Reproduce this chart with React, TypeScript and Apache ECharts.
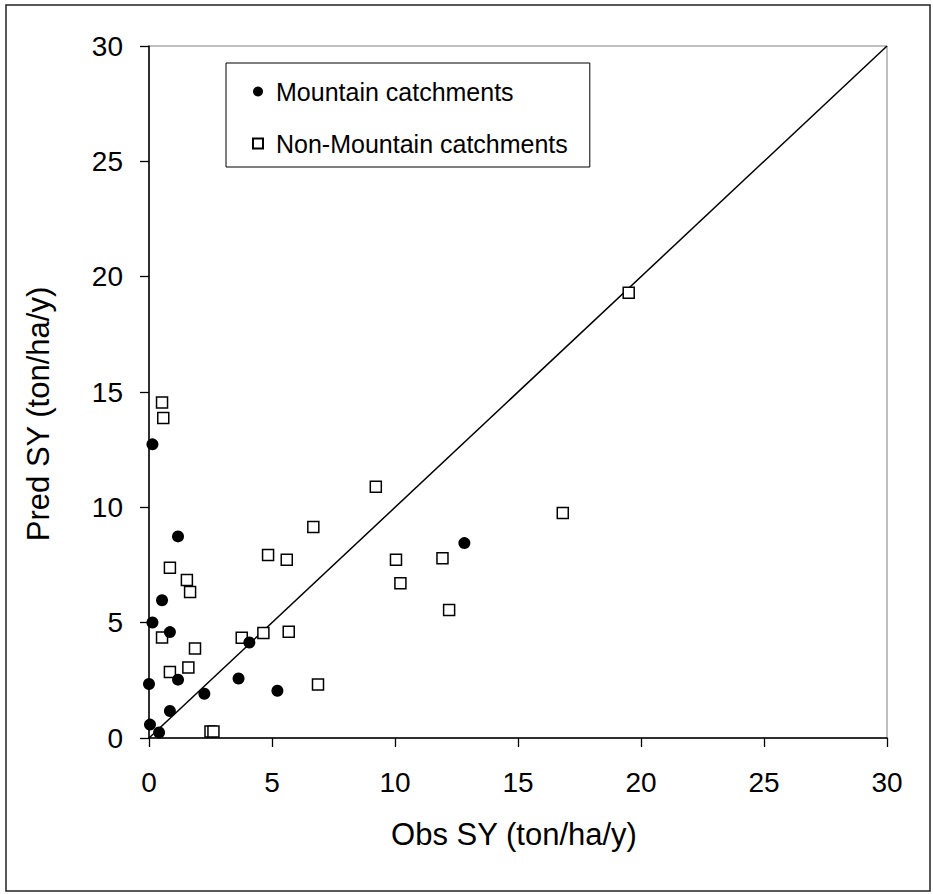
import React, { useEffect, useRef } from "react";
import * as echarts from "echarts";

// Observed vs predicted sediment yield (ton/ha/y)
const mountainObs = [0.14, 1.18, 0.53, 0.14, 0.85, 0.0, 1.18, 2.25, 3.64, 4.08, 0.85, 0.04, 0.41, 5.22, 12.82];
const mountainPred = [12.73, 8.74, 5.97, 5.01, 4.59, 2.34, 2.53, 1.92, 2.58, 4.14, 1.17, 0.58, 0.24, 2.05, 8.45];

const nonMountainObs = [
  0.53, 0.58, 0.85, 1.54, 1.67, 0.53, 1.87, 0.85, 1.6, 3.77, 4.65, 4.84, 5.6, 5.68, 2.5, 2.62, 6.68, 10.04,
  10.22, 6.87, 9.22, 16.82, 11.93, 12.2, 19.5,
];
const nonMountainPred = [
  14.55, 13.87, 7.38, 6.85, 6.33, 4.36, 3.88, 2.86, 3.06, 4.35, 4.55, 7.93, 7.73, 4.61, 0.28, 0.28, 9.15, 7.73,
  6.71, 2.32, 10.89, 9.75, 7.79, 5.55, 19.3,
];

// 1:1 reference line
const oneToOne = [0, 30];

const seriesNames = ["Mountain catchments", "Non-Mountain catchments"];
const axisTicks = [0, 5, 10, 15, 20, 25, 30];

const FONT = "'Liberation Sans', Arial, Helvetica, sans-serif";

function pairs(xs: number[], ys: number[]) {
  return xs.map((x, i) => [x, ys[i]]);
}

export default function App() {
  const ref = useRef<HTMLDivElement>(null);

  useEffect(() => {
    if (!ref.current) return;
    const chart = echarts.init(ref.current, null, { renderer: "svg" });
    const axisMin = axisTicks[0];
    const axisMax = axisTicks[axisTicks.length - 1];
    const step = axisTicks[1] - axisTicks[0];

    const axisCommon = {
      type: "value" as const,
      min: axisMin,
      max: axisMax,
      interval: step,
      splitLine: { show: false },
      axisLine: { show: true, onZero: false, lineStyle: { color: "#000", width: 1.5 } },
      axisTick: { show: true, inside: false, length: 9, lineStyle: { color: "#000", width: 1.3 } },
      nameLocation: "middle" as const,
    };

    chart.setOption({
      animation: false,
      backgroundColor: "#fff",
      textStyle: { fontFamily: FONT },
      grid: {
        left: 149,
        top: 46,
        width: 738,
        height: 692,
        show: true,
        borderColor: "#808080",
        borderWidth: 1,
        backgroundColor: "transparent",
      },
      xAxis: {
        ...axisCommon,
        name: "Obs SY (ton/ha/y)",
        nameGap: 81,
        nameTextStyle: { color: "#000", fontSize: 31, fontFamily: FONT, padding: [0, 8, 0, 0] },
        axisLabel: { color: "#000", fontSize: 28, fontFamily: FONT, margin: 30 },
      },
      yAxis: {
        ...axisCommon,
        name: "Pred SY (ton/ha/y)",
        nameGap: 95,
        nameTextStyle: { color: "#000", fontSize: 31, fontFamily: FONT, padding: [0, 44, 0, 0] },
        axisLabel: { color: "#000", fontSize: 28, fontFamily: FONT, margin: 26 },
      },
      legend: {
        data: seriesNames,
        orient: "vertical",
        left: 226,
        top: 63,
        itemWidth: 10,
        itemHeight: 10,
        itemGap: 27,
        padding: [16, 22, 11, 26],
        borderColor: "#000",
        borderWidth: 1,
        backgroundColor: "#fff",
        selectedMode: false,
        textStyle: {
          color: "#000",
          fontSize: 25,
          fontFamily: FONT,
          lineHeight: 25,
          padding: [0, 0, 0, 8],
        },
      },
      graphic: [
        {
          type: "rect",
          shape: { x: 6, y: 5, width: 924, height: 886 },
          style: { fill: "none", stroke: "#222", lineWidth: 1.5 },
          silent: true,
          z: -10,
        },
      ],
      series: [
        {
          name: "1:1",
          type: "line",
          data: pairs(oneToOne, oneToOne),
          symbol: "none",
          lineStyle: { color: "#000", width: 1.5 },
          silent: true,
          z: 1,
        },
        {
          name: seriesNames[0],
          type: "scatter",
          data: pairs(mountainObs, mountainPred),
          symbol: "circle",
          symbolSize: 12,
          itemStyle: { color: "#000", borderColor: "#000", borderWidth: 0, opacity: 1 },
          z: 3,
        },
        {
          name: seriesNames[1],
          type: "scatter",
          data: pairs(nonMountainObs, nonMountainPred),
          symbol: "rect",
          symbolSize: 11,
          itemStyle: { color: "#fff", borderColor: "#000", borderWidth: 1.5, opacity: 1 },
          z: 2,
        },
      ],
    });
    return () => chart.dispose();
  }, []);

  return (
    <div
      ref={ref}
      style={{ position: "absolute", left: 0, top: 0, width: 933, height: 894 }}
    />
  );
}
